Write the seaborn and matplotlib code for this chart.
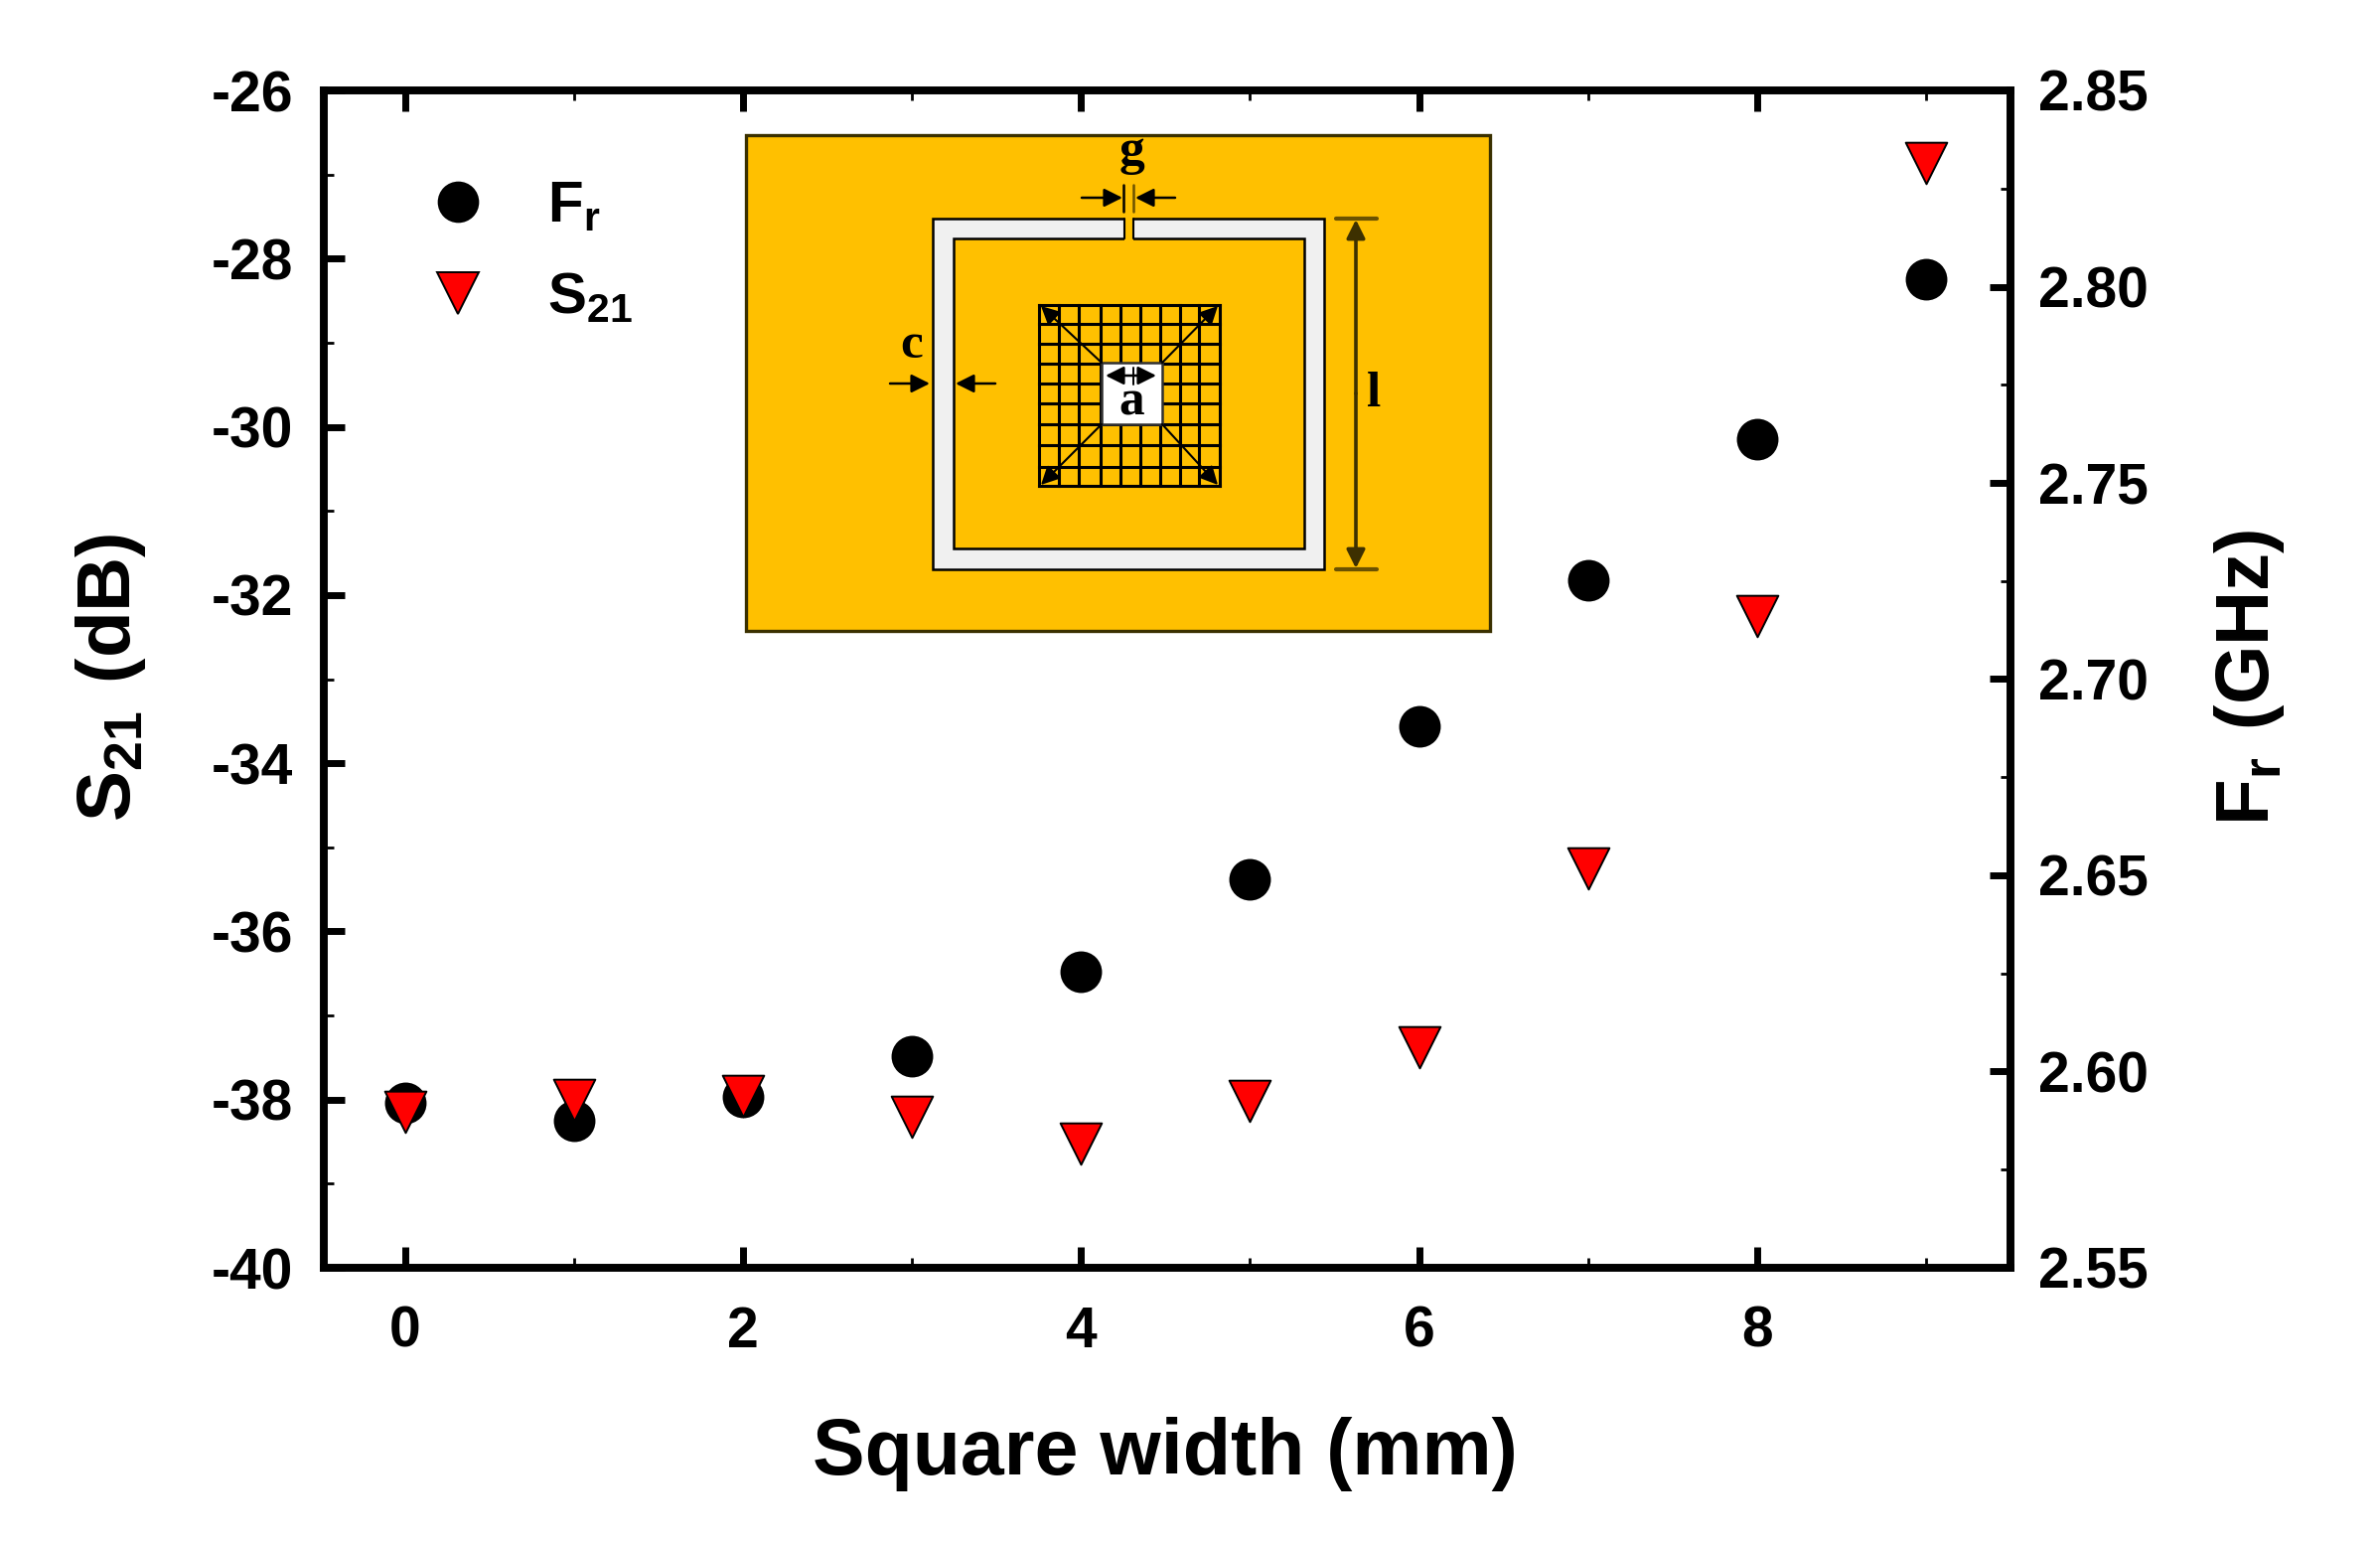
import matplotlib
matplotlib.use("Agg")
import matplotlib.pyplot as plt
from matplotlib.lines import Line2D
from matplotlib.patches import Rectangle
from matplotlib.ticker import MultipleLocator, FormatStrFormatter
import seaborn as sns

# ---- data ----
square_width = [0, 1, 2, 3, 4, 5, 6, 7, 8, 9]
s21_db = [-38.15, -38.0, -37.96, -38.2, -38.52, -38.02, -37.38, -35.25, -32.25, -26.86]
fr_ghz = [2.592, 2.5875, 2.5936, 2.604, 2.6255, 2.649, 2.688, 2.7253, 2.7612, 2.802]
left_ticks = [-40, -38, -36, -34, -32, -30, -28, -26]
right_ticks = [2.55, 2.60, 2.65, 2.70, 2.75, 2.80, 2.85]
bottom_ticks = [0, 2, 4, 6, 8]

W, H = 2396, 1554
sns.set_theme(style="ticks")
plt.rcParams.update({
    "font.family": ["Liberation Sans", "DejaVu Sans"],
    "font.weight": "bold",
    "text.color": "black",
    "axes.labelcolor": "black",
    "xtick.labelcolor": "black",
    "ytick.labelcolor": "black",
    "axes.unicode_minus": False,
    "mathtext.fontset": "custom",
    "mathtext.bf": "Liberation Sans:bold",
    "mathtext.rm": "Liberation Sans:bold",
    "mathtext.default": "bf",
})

fig = plt.figure(figsize=(W / 100, H / 100), dpi=100, facecolor="white")
L, R, T, B = 326, 2024, 91, 1276
ax = fig.add_axes([L / W, 1 - B / H, (R - L) / W, (B - T) / H])
ax2 = ax.twinx()
ax.set_zorder(ax2.get_zorder() + 1)
ax.patch.set_visible(False)

sns.scatterplot(x=square_width, y=fr_ghz, marker="o", s=910, color="black",
                edgecolor="black", linewidth=0, ax=ax2, legend=False)
sns.scatterplot(x=square_width, y=s21_db, marker="v", s=900, color="#FF0000",
                edgecolor="black", linewidth=1.4, ax=ax, legend=False)

ax.set_xlim(-0.48, 9.5)
ax.set_ylim(-40, -26)
ax2.set_ylim(2.55, 2.85)
ax.set_xticks(bottom_ticks)
ax.xaxis.set_minor_locator(MultipleLocator(1))
ax.set_yticks(left_ticks)
ax.yaxis.set_minor_locator(MultipleLocator(1))
ax2.set_yticks(right_ticks)
ax2.yaxis.set_major_formatter(FormatStrFormatter("%.2f"))
ax2.yaxis.set_minor_locator(MultipleLocator(0.025))

for a in (ax, ax2):
    for s in a.spines.values():
        s.set_linewidth(5.5)
        s.set_color("black")
    a.tick_params(which="major", direction="in", length=15, width=5, color="black")
    a.tick_params(which="minor", direction="in", length=7, width=2, color="black")

LAB = 41
ax.tick_params(axis="x", which="both", top=True, bottom=True)
ax.tick_params(axis="x", which="major", labelsize=LAB, pad=27)
ax.tick_params(axis="y", which="both", left=True, right=False)
ax.tick_params(axis="y", which="major", labelsize=LAB, pad=22)
ax2.tick_params(axis="y", which="both", right=True, left=False)
ax2.tick_params(axis="y", which="major", labelsize=LAB, pad=20)
for t in ax.get_xticklabels() + ax.get_yticklabels() + ax2.get_yticklabels():
    t.set_fontweight("bold")

ax.set_xlabel("Square width (mm)", fontsize=56.8, fontweight="bold")
ax.xaxis.set_label_coords((1173 - L) / (R - L), -(1501 - B) / (B - T), transform=ax.transAxes)
ax.xaxis.label.set_va("bottom")
ax.set_ylabel(r"$\mathbf{S_{21}\ (dB)}$", fontsize=55)
ax.yaxis.set_label_coords(-(L - 112) / (R - L), 0.5, transform=ax.transAxes)
ax.yaxis.label.set_va("center")
ax.yaxis.label.set_y((B - 682) / (B - T))
ax2.set_ylabel(r"$\mathbf{F_{r}\ (GHz)}$", fontsize=55, rotation=90)
ax2.yaxis.set_label_coords(1 + (2264 - R) / (R - L), (B - 682) / (B - T), transform=ax2.transAxes)
ax2.yaxis.label.set_va("center")

handles = [
    Line2D([], [], ls="", marker="o", ms=30, mfc="black", mec="black", mew=0),
    Line2D([], [], ls="", marker="v", ms=30, mfc="#FF0000", mec="black", mew=1.4),
]
leg = ax.legend(handles, [r"$\mathbf{F_{r}}$", r"$\mathbf{S_{21}}$"], frameon=False,
                fontsize=42, loc="upper left",
                bbox_to_anchor=((426 - L) / (R - L), 1 - (181 - T) / (B - T)),
                borderpad=0, borderaxespad=0, labelspacing=0.66,
                handletextpad=0.95, handlelength=1.2)

# ---- inset schematic, in figure pixel units ----
ins = fig.add_axes([0, 0, 1, 1], zorder=5)
ins.set_xlim(0, W)
ins.set_ylim(H, 0)
ins.axis("off")
ins.patch.set_visible(False)

GOLD, RING = "#FFC000", "#F0F0F0"
def rect(x0, y0, x1, y1, fc, ec="black", lw=1.8, z=1):
    ins.add_patch(Rectangle((x0, y0), x1 - x0, y1 - y0, fc=fc, ec=ec, lw=lw, zorder=z))

rect(751, 136, 1500, 635, GOLD, ec="#3a3000", lw=2.4)
rect(939, 220, 1333, 573, RING, z=2)
rect(960, 240, 1313, 552, GOLD, z=3)
ins.add_patch(Rectangle((1132, 218), 9, 24, fc=GOLD, ec="none", zorder=4))
ins.plot([1132, 1132], [220, 240], color="black", lw=1.5, zorder=4)
ins.plot([1141, 1141], [220, 240], color="black", lw=1.5, zorder=4)

grid_x = [1046, 1066, 1086, 1108, 1128, 1148, 1168, 1188, 1207, 1228]
grid_y = [307, 326, 346, 366, 386, 406, 427, 448, 470, 489]
for gx in grid_x:
    ins.plot([gx, gx], [grid_y[0], grid_y[-1]], color="black", lw=2.2, zorder=4, solid_capstyle="projecting")
for gy in grid_y:
    ins.plot([grid_x[0], grid_x[-1]], [gy, gy], color="black", lw=2.2, zorder=4, solid_capstyle="projecting")
rect(1109, 365, 1170, 427, "white", ec="#303030", lw=1.8, z=5)

def arrow(x0, y0, x1, y1, style="-|>", lw=1.8, ms=28, color="black"):
    ins.annotate("", xy=(x1, y1), xytext=(x0, y0), zorder=6,
                 arrowprops=dict(arrowstyle=style, color=color, lw=lw, mutation_scale=ms,
                                 shrinkA=0, shrinkB=0))

for (x0, y0, x1, y1) in [(1109, 365, 1048, 308), (1170, 365, 1226, 308),
                         (1109, 427, 1048, 488), (1170, 427, 1226, 488)]:
    arrow(x0, y0, x1, y1, lw=1.5)

arrow(1089, 199, 1130, 199)
arrow(1183, 199, 1143, 199)
ins.plot([1131, 1131], [186, 213], color="black", lw=1.8, zorder=6)
ins.plot([1141, 1141], [186, 213], color="#6b5200", lw=1.8, zorder=6)
arrow(896, 386, 936, 386)
arrow(1002, 386, 962, 386)
arrow(1141, 378, 1113, 378)
arrow(1141, 378, 1164, 378)
ins.plot([1141, 1141], [370, 387], color="black", lw=1.4, zorder=7)
arrow(1365, 396, 1365, 221, lw=2.6, color="#3d3000")
arrow(1365, 396, 1365, 572, lw=2.6, color="#3d3000")
ins.plot([1345, 1386], [220, 220], color="#6b5200", lw=3, zorder=6)
ins.plot([1345, 1386], [573, 573], color="#6b5200", lw=3, zorder=6)

SERIF = ["Liberation Serif", "DejaVu Serif"]
for (tx, ty, s) in [(1139, 153, "g"), (918, 348, "c"), (1383, 397, "l"), (1139, 405, "a")]:
    ins.text(tx, ty, s, fontsize=37, fontweight="bold", family=SERIF, ha="center",
             va="center", color="black", zorder=7)

fig.savefig("out.png", dpi=100, facecolor="white")
